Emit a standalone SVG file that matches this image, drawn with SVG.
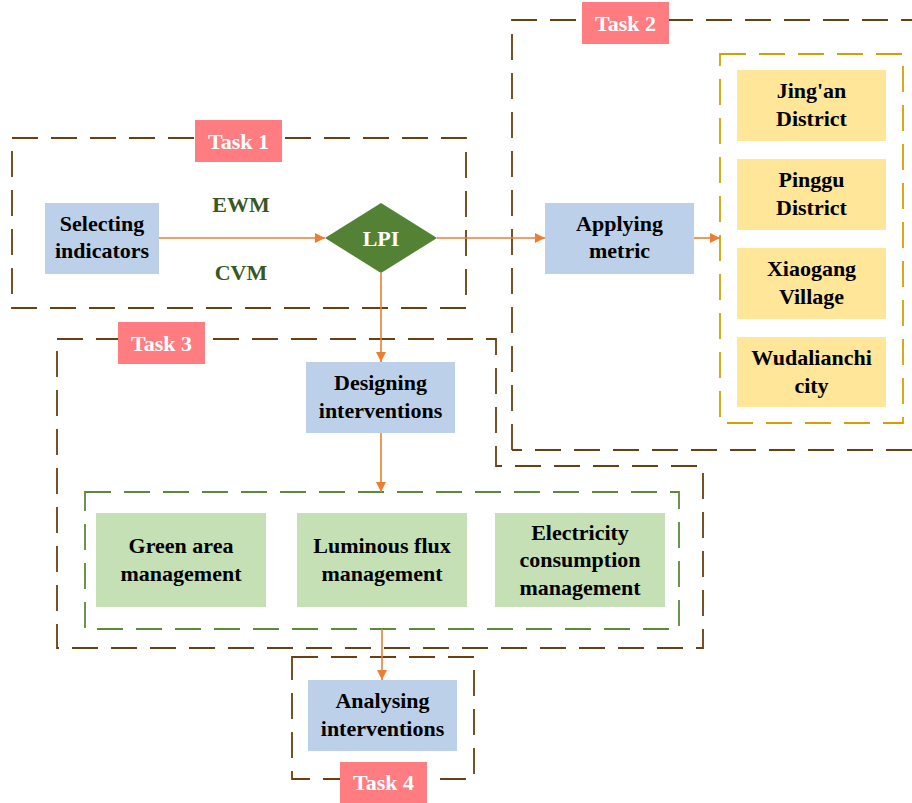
<svg xmlns="http://www.w3.org/2000/svg" width="912" height="803" viewBox="0 0 912 803">
<defs>
<style>
.frame{fill:none;stroke:#6b3f10;stroke-width:1.8;stroke-dasharray:26 13}
.gold{fill:none;stroke:#d4a000;stroke-width:1.8;stroke-dasharray:26 13}
.gfr{fill:none;stroke:#5a8a3a;stroke-width:1.8;stroke-dasharray:26 13}
.blue{fill:#bdd0e9}
.yel{fill:#ffe699}
.grn{fill:#c5e0b4}
.tag{fill:#ff7c80}
.t{font-family:"Liberation Serif","Times New Roman",serif;font-weight:bold;font-size:22px;text-anchor:middle;fill:#000}
.w{fill:#fff}
.dg{fill:#385723}
.arr{fill:none;stroke:#ed7d31;stroke-width:1.6;marker-end:url(#ah)}
</style>
<marker id="ah" viewBox="0 0 10 10" refX="10" refY="5" markerWidth="10" markerHeight="10" markerUnits="userSpaceOnUse" orient="auto">
<path d="M0,0 L10,5 L0,10 z" fill="#ed7d31"/>
</marker>
</defs>
<rect width="912" height="803" fill="#fff"/>

<g id="frames">
<rect id="task1-frame" class="frame" x="12" y="138" width="454" height="170"/>
<path id="task2-frame" class="frame" d="M512,450 V20 H912 M912,450 H512"/>
<path id="task3-frame" class="frame" d="M57,339 H496 V466 H703 V648 H57 Z"/>
<rect id="task4-frame" class="frame" x="292" y="657" width="182" height="122"/>
<rect id="cities-frame" class="gold" x="720" y="54" width="183" height="369"/>
<rect id="interventions-frame" class="gfr" x="85" y="492" width="594" height="137"/>
</g>

<g id="connectors">
<line class="arr" x1="159" y1="238" x2="325" y2="238"/>
<line class="arr" x1="437" y1="238" x2="545" y2="238"/>
<line class="arr" x1="694" y1="238" x2="720" y2="238"/>
<line class="arr" x1="381" y1="273" x2="381" y2="362"/>
<line class="arr" x1="381" y1="433" x2="381" y2="492"/>
<line class="arr" x1="382" y1="629" x2="382" y2="680"/>
<text class="t dg" x="241" y="212">EWM</text>
<text class="t dg" x="241" y="280">CVM</text>
</g>

<g id="task1-label"><rect class="tag" x="195" y="120" width="87" height="42"/><text class="t w" x="238.5" y="148.5">Task 1</text></g>
<g id="task2-label"><rect class="tag" x="582" y="2" width="87" height="42"/><text class="t w" x="625.5" y="30.5">Task 2</text></g>
<g id="task3-label"><rect class="tag" x="118" y="322" width="87" height="42"/><text class="t w" x="161.5" y="350.5">Task 3</text></g>
<g id="task4-label"><rect class="tag" x="340" y="762" width="87" height="41"/><text class="t w" x="383.5" y="790">Task 4</text></g>

<g id="selecting"><rect class="blue" x="45" y="203" width="114" height="71"/><text class="t" x="102" y="230.5">Selecting</text><text class="t" x="102" y="258">indicators</text></g>

<g id="lpi"><path d="M381,203 L437,238 L381,273 L325,238 Z" fill="#548235"/><text class="t w" x="381" y="245.5">LPI</text></g>

<g id="applying"><rect class="blue" x="545" y="203" width="149" height="71"/><text class="t" x="619.5" y="230.5">Applying</text><text class="t" x="619.5" y="258">metric</text></g>

<g id="jingan"><rect class="yel" x="737" y="70" width="149" height="71"/><text class="t" x="811.5" y="98">Jing'an</text><text class="t" x="811.5" y="125.5">District</text></g>
<g id="pinggu"><rect class="yel" x="737" y="159" width="149" height="71"/><text class="t" x="811.5" y="187">Pinggu</text><text class="t" x="811.5" y="214.5">District</text></g>
<g id="xiaogang"><rect class="yel" x="737" y="248" width="149" height="71"/><text class="t" x="811.5" y="276">Xiaogang</text><text class="t" x="811.5" y="303.5">Village</text></g>
<g id="wudalianchi"><rect class="yel" x="737" y="337" width="149" height="70"/><text class="t" x="811.5" y="365">Wudalianchi</text><text class="t" x="811.5" y="392.5">city</text></g>

<g id="designing"><rect class="blue" x="306" y="362" width="149" height="71"/><text class="t" x="380.5" y="390">Designing</text><text class="t" x="380.5" y="417.5">interventions</text></g>

<g id="green-area"><rect class="grn" x="96" y="513" width="170" height="94"/><text class="t" x="181" y="553">Green area</text><text class="t" x="181" y="581">management</text></g>
<g id="luminous"><rect class="grn" x="297" y="513" width="170" height="94"/><text class="t" x="382" y="553">Luminous flux</text><text class="t" x="382" y="581">management</text></g>
<g id="electricity"><rect class="grn" x="495" y="513" width="170" height="94"/><text class="t" x="580" y="539.5">Electricity</text><text class="t" x="580" y="567">consumption</text><text class="t" x="580" y="594.5">management</text></g>

<g id="analysing"><rect class="blue" x="308" y="680" width="149" height="71"/><text class="t" x="382.5" y="708">Analysing</text><text class="t" x="382.5" y="735.5">interventions</text></g>
</svg>
